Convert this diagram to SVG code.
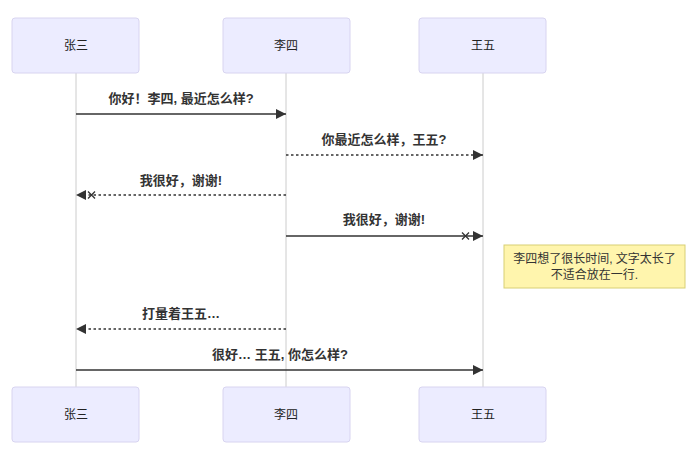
<svg xmlns="http://www.w3.org/2000/svg" width="688" height="451" viewBox="0 0 688 451">
<style>
.actor{fill:#ECECFF;stroke:#d8d4f0;stroke-width:1}
.atext{font-family:"Liberation Sans","Noto Sans CJK SC",sans-serif;font-size:12px;fill:#222;text-anchor:middle;dominant-baseline:central}
.life{stroke:#cccccc;stroke-width:1}
.msg{stroke:#333;stroke-width:1.3;fill:none}
.dot{stroke-dasharray:2.5,2.5}
.mtext{font-family:"Liberation Sans","Noto Sans CJK SC",sans-serif;font-size:13px;font-weight:bold;fill:#333;text-anchor:middle}
.note{fill:#fff5ad;stroke:#d8cf74;stroke-width:1}
.ntext{font-family:"Liberation Sans","Noto Sans CJK SC",sans-serif;font-size:12px;fill:#333;text-anchor:middle}
</style>
<defs>
<marker id="arrow" viewBox="0 0 10 10" refX="10" refY="5" markerWidth="10" markerHeight="10" markerUnits="userSpaceOnUse" orient="auto-start-reverse">
<path d="M0,0 L10,5 L0,10 z" fill="#333"/>
</marker>
</defs>
<rect width="688" height="451" fill="#ffffff"/>
<g id="lifelines">
<line class="life" x1="76" y1="73" x2="76" y2="387"/>
<line class="life" x1="286" y1="73" x2="286" y2="387"/>
<line class="life" x1="483" y1="73" x2="483" y2="387"/>
</g>
<g id="actor-zhangsan-top"><rect class="actor" x="12" y="18" width="127" height="55" rx="3"/><text class="atext" x="76" y="46">张三</text></g>
<g id="actor-lisi-top"><rect class="actor" x="223" y="18" width="127" height="55" rx="3"/><text class="atext" x="286" y="46">李四</text></g>
<g id="actor-wangwu-top"><rect class="actor" x="419" y="18" width="127" height="55" rx="3"/><text class="atext" x="483" y="46">王五</text></g>
<g id="actor-zhangsan-bottom"><rect class="actor" x="12" y="387" width="127" height="55" rx="3"/><text class="atext" x="76" y="415">张三</text></g>
<g id="actor-lisi-bottom"><rect class="actor" x="223" y="387" width="127" height="55" rx="3"/><text class="atext" x="286" y="415">李四</text></g>
<g id="actor-wangwu-bottom"><rect class="actor" x="419" y="387" width="127" height="55" rx="3"/><text class="atext" x="483" y="415">王五</text></g>
<g id="connectors">
<line class="msg" x1="76" y1="114" x2="286" y2="114" marker-end="url(#arrow)"/>
<text class="mtext" x="181" y="103">你好！李四, 最近怎么样?</text>
<line class="msg dot" x1="286" y1="155" x2="483" y2="155" marker-end="url(#arrow)"/>
<text class="mtext" x="384" y="144">你最近怎么样，王五?</text>
<line class="msg dot" x1="286" y1="195" x2="76" y2="195" marker-end="url(#arrow)"/>
<path class="msg" d="M88,191.5 L95,198.5 M95,191.5 L88,198.5"/>
<text class="mtext" x="181" y="185">我很好，谢谢!</text>
<line class="msg" x1="286" y1="236" x2="483" y2="236" marker-end="url(#arrow)"/>
<path class="msg" d="M462,232.5 L469,239.5 M469,232.5 L462,239.5"/>
<text class="mtext" x="384" y="224">我很好，谢谢!</text>
<line class="msg dot" x1="286" y1="329" x2="76" y2="329" marker-end="url(#arrow)"/>
<text class="mtext" x="181" y="318">打量着王五…</text>
<line class="msg" x1="76" y1="370" x2="483" y2="370" marker-end="url(#arrow)"/>
<text class="mtext" x="280" y="359">很好… 王五, 你怎么样?</text>
</g>
<g id="note">
<rect class="note" x="504" y="245" width="181" height="43"/>
<text class="ntext" x="594.5" y="263">李四想了很长时间, 文字太长了</text>
<text class="ntext" x="594.5" y="279">不适合放在一行.</text>
</g>
</svg>
